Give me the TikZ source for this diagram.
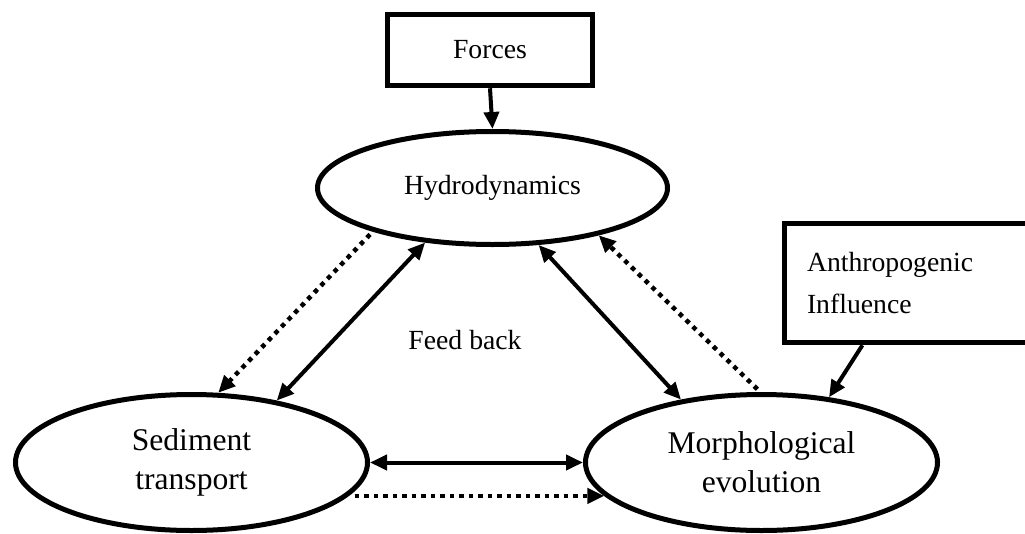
\documentclass[tikz,border=0pt]{standalone}
\usepackage{fontspec}
\setmainfont{Liberation Serif}
\usetikzlibrary{arrows.meta,shapes.geometric}
\begin{document}
\begin{tikzpicture}[x=1pt,y=-1pt,
  ell/.style={draw, ellipse, line width=5pt, inner sep=0pt, align=center},
  bigtxt/.style={font=\fontsize{31.6}{39}\selectfont},
  smtxt/.style={font=\fontsize{27.7}{42}\selectfont},
  boxnode/.style={draw, rectangle, line width=5.5pt, inner ysep=0pt},
  tip/.style={},
  conn/.style={line width=4pt, -{Triangle[length=17pt,width=15pt]}},
  bconn/.style={line width=4pt, {Triangle[length=17pt,width=15pt]}-{Triangle[length=17pt,width=15pt]}},
  dotconn/.style={line width=4.5pt, dash pattern=on 4.5pt off 5pt, shorten <=4pt, -{Triangle[length=17pt,width=15pt]}},
]
\useasboundingbox (0,0) rectangle (1025,533);
\node[boxnode, smtxt, minimum width=205pt, minimum height=71pt, inner xsep=0pt] (forces) at (490,50) {Forces};
\node[ell, smtxt, minimum width=350pt, minimum height=113pt] (hydro) at (492.5,188) {Hydrodynamics};
\node[ell, bigtxt, minimum width=352pt, minimum height=136pt] (sed) at (191.5,462.5) {Sediment\\transport};
\node[ell, bigtxt, minimum width=352pt, minimum height=136pt] (morph) at (761.5,462.5) {Morphological\\evolution};
\node[boxnode, smtxt, align=left, text width=208pt, inner xsep=22.5pt, minimum height=119pt] (anthro) at (911,283) {Anthropogenic\\Influence};
\node[smtxt] (fb) at (465,340) {Feed back};
\draw[conn] (forces.south) -- (hydro.north);
\draw[dotconn] (hydro.200) -- (sed.69);
\draw[bconn] (hydro.219) -- (sed.36);
\draw[bconn] (hydro.309) -- (morph.142);
\draw[dotconn] (morph.91) -- (hydro.336);
\draw[bconn] (sed.east) -- (morph.west);
\draw[dotconn, shorten <=6pt] (sed.-12) -- (morph.192);
\draw[conn] (anthro.232) -- (morph.44);
\end{tikzpicture}
\end{document}
